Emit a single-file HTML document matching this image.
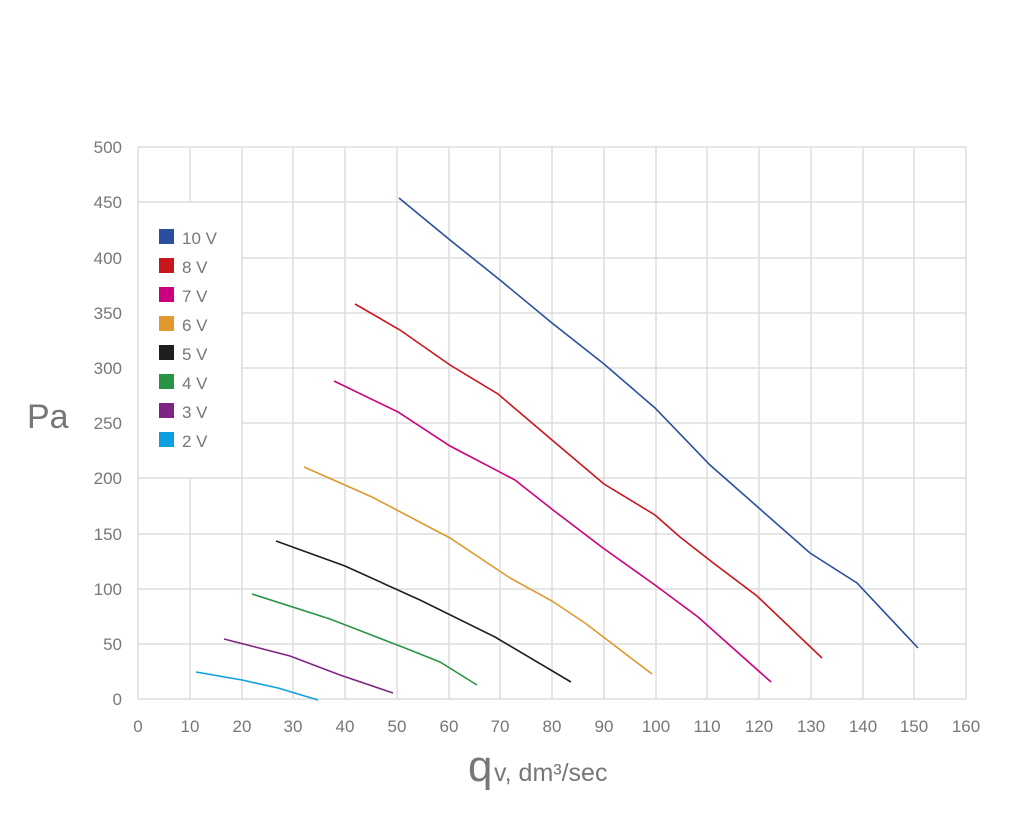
<!DOCTYPE html>
<html><head><style>body{margin:0;background:#fff}svg{display:block}</style></head><body>
<svg width="1024" height="823" xmlns="http://www.w3.org/2000/svg" font-family="Liberation Sans, sans-serif" fill="#777">
<g stroke="#ddd" stroke-width="1.5">
<line x1="138" y1="147" x2="966" y2="147"/><line x1="138" y1="202" x2="966" y2="202"/>
<line x1="242" y1="258" x2="966" y2="258"/><line x1="242" y1="313" x2="966" y2="313"/>
<line x1="242" y1="368" x2="966" y2="368"/><line x1="242" y1="423" x2="966" y2="423"/>
<line x1="138" y1="478" x2="966" y2="478"/><line x1="138" y1="534" x2="966" y2="534"/>
<line x1="138" y1="589" x2="966" y2="589"/><line x1="138" y1="644" x2="966" y2="644"/>
<line x1="138" y1="699" x2="966" y2="699"/>
<line x1="138" y1="147" x2="138" y2="699"/><line x1="190" y1="147" x2="190" y2="202"/><line x1="190" y1="478" x2="190" y2="699"/>
<line x1="242" y1="147" x2="242" y2="699"/><line x1="293" y1="147" x2="293" y2="699"/><line x1="345" y1="147" x2="345" y2="699"/>
<line x1="397" y1="147" x2="397" y2="699"/><line x1="449" y1="147" x2="449" y2="699"/><line x1="500" y1="147" x2="500" y2="699"/>
<line x1="552" y1="147" x2="552" y2="699"/><line x1="604" y1="147" x2="604" y2="699"/><line x1="656" y1="147" x2="656" y2="699"/>
<line x1="707" y1="147" x2="707" y2="699"/><line x1="759" y1="147" x2="759" y2="699"/><line x1="811" y1="147" x2="811" y2="699"/>
<line x1="863" y1="147" x2="863" y2="699"/><line x1="914" y1="147" x2="914" y2="699"/><line x1="966" y1="147" x2="966" y2="699"/>
</g>
<g font-size="17" text-anchor="end">
<text x="122" y="153">500</text><text x="122" y="208">450</text><text x="122" y="264">400</text><text x="122" y="319">350</text>
<text x="122" y="374">300</text><text x="122" y="429">250</text><text x="122" y="484">200</text><text x="122" y="540">150</text>
<text x="122" y="595">100</text><text x="122" y="650">50</text><text x="122" y="705">0</text>
</g>
<g font-size="17" text-anchor="middle">
<text x="138" y="732">0</text><text x="190" y="732">10</text><text x="242" y="732">20</text><text x="293" y="732">30</text>
<text x="345" y="732">40</text><text x="397" y="732">50</text><text x="449" y="732">60</text><text x="500" y="732">70</text>
<text x="552" y="732">80</text><text x="604" y="732">90</text><text x="656" y="732">100</text><text x="707" y="732">110</text>
<text x="759" y="732">120</text><text x="811" y="732">130</text><text x="863" y="732">140</text><text x="914" y="732">150</text><text x="966" y="732">160</text>
</g>
<text x="27" y="428" font-size="34">Pa</text>
<text x="468" y="781" font-size="44">q</text><text x="494" y="781" font-size="25">v, dm³/sec</text>
<g font-size="17">
<rect x="159" y="229" width="15" height="15" fill="#2a4f9e"/><text x="182" y="244">10 V</text>
<rect x="159" y="258" width="15" height="15" fill="#c8161d"/><text x="182" y="273">8 V</text>
<rect x="159" y="287" width="15" height="15" fill="#cc007f"/><text x="182" y="302">7 V</text>
<rect x="159" y="316" width="15" height="15" fill="#e0982f"/><text x="182" y="331">6 V</text>
<rect x="159" y="345" width="15" height="15" fill="#1e1e1e"/><text x="182" y="360">5 V</text>
<rect x="159" y="374" width="15" height="15" fill="#2a9446"/><text x="182" y="389">4 V</text>
<rect x="159" y="403" width="15" height="15" fill="#7f2585"/><text x="182" y="418">3 V</text>
<rect x="159" y="432" width="15" height="15" fill="#0da0e0"/><text x="182" y="447">2 V</text>
</g>
<g fill="none" stroke-width="1.6">
<polyline stroke="#2a4f9e" points="399,198 450,240 500,280 552,323 604,364 655,408 710,465 760,509 810,553 857,583 918,648"/>
<polyline stroke="#c8161d" points="355,304 400,330 450,365 498,394 552,440 604,484 655,515 680,537 712,562 757,596 822,658"/>
<polyline stroke="#cc007f" points="334,381 398,412 450,446 515,480 553,510 603,548 655,585 698,617 771,682"/>
<polyline stroke="#e0982f" points="304,467 372,497 450,538 510,578 552,601 585,623 652,674"/>
<polyline stroke="#1e1e1e" points="276,541 345,566 420,600 495,637 571,682"/>
<polyline stroke="#2a9446" points="252,594 330,619 405,648 440,662 477,685"/>
<polyline stroke="#7f2585" points="224,639 290,656 340,675 393,693"/>
<polyline stroke="#0da0e0" points="196,672 242,680 278,688 318,700"/>
</g>
</svg>
</body></html>
